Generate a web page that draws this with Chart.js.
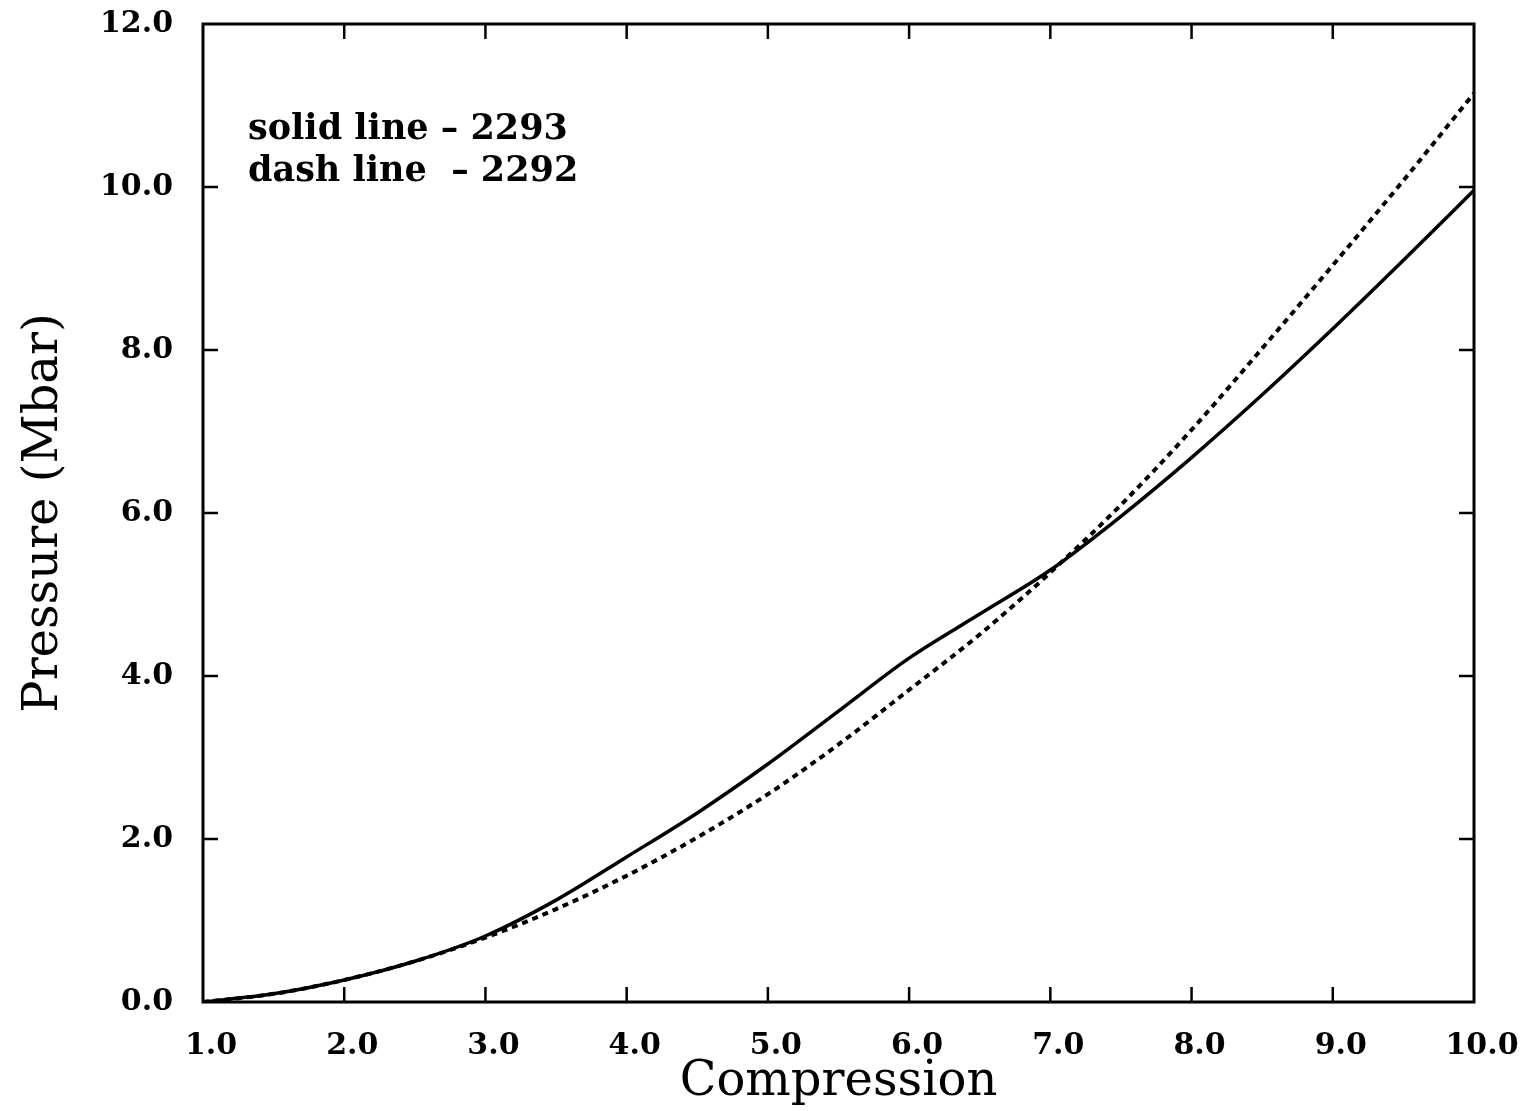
<!DOCTYPE html>
<html>
<head>
<meta charset="utf-8">
<script src="https://cdn.jsdelivr.net/npm/chart.js@4.4.1/dist/chart.umd.min.js"></script>
<style>
  html, body { margin: 0; padding: 0; background: #fff; }
  canvas { display: block; }
</style>
</head>
<body>
<canvas id="pressureChart" width="1534" height="1111"></canvas>
<script>
// compression values (x) and pressure in Mbar
const compression = [1.0, 1.5, 2.0, 2.5, 3.0, 3.5, 4.0, 4.5, 5.0, 5.5, 6.0, 6.5, 7.0, 7.5, 8.0, 8.5, 9.0, 9.5, 10.0];
const solid2293 = [0.0, 0.10, 0.27, 0.50, 0.81, 1.25, 1.78, 2.32, 2.92, 3.57, 4.22, 4.76, 5.30, 5.96, 6.68, 7.45, 8.26, 9.10, 9.96];
const dash2292  = [0.0, 0.10, 0.27, 0.50, 0.79, 1.14, 1.55, 2.02, 2.55, 3.16, 3.83, 4.51, 5.27, 6.10, 7.02, 8.02, 9.04, 10.08, 11.15];
const legendLines = ['solid line \u2013 2293', 'dash line  \u2013 2292'];

const serif = "'DejaVu Serif', 'Liberation Serif', serif";

const toPoints = (ys) => compression.map((c, i) => ({ x: c, y: ys[i] }));

// frame, inward ticks on all four sides, and the text key
const framePlugin = {
  id: 'frame',
  afterDraw(chart) {
    const { ctx, chartArea: { left, right, top, bottom }, scales: { x, y } } = chart;
    ctx.save();
    ctx.strokeStyle = '#000';
    ctx.lineWidth = 3;
    ctx.strokeRect(left, top, right - left, bottom - top);

    ctx.lineWidth = 2.5;
    const tick = 15;
    x.ticks.forEach(t => {
      if (t.value <= x.min || t.value >= x.max) return;
      const px = x.getPixelForValue(t.value);
      ctx.beginPath();
      ctx.moveTo(px, bottom); ctx.lineTo(px, bottom - tick);
      ctx.moveTo(px, top); ctx.lineTo(px, top + tick);
      ctx.stroke();
    });
    y.ticks.forEach(t => {
      if (t.value <= y.min || t.value >= y.max) return;
      const py = y.getPixelForValue(t.value);
      ctx.beginPath();
      ctx.moveTo(left, py); ctx.lineTo(left + tick, py);
      ctx.moveTo(right, py); ctx.lineTo(right - tick, py);
      ctx.stroke();
    });

    ctx.fillStyle = '#000';
    ctx.font = 'bold 35px ' + serif;
    ctx.textBaseline = 'middle';
    ctx.textAlign = 'left';
    ctx.fillText(legendLines[0], 248, 130);
    ctx.fillText(legendLines[1], 248, 172);
    ctx.restore();
  }
};

new Chart(document.getElementById('pressureChart').getContext('2d'), {
  type: 'line',
  data: {
    datasets: [
      {
        label: '2293',
        data: toPoints(solid2293),
        borderColor: '#000',
        borderWidth: 3.5,
        pointRadius: 0,
        fill: false,
        cubicInterpolationMode: 'monotone'
      },
      {
        label: '2292',
        data: toPoints(dash2292),
        borderColor: '#000',
        borderWidth: 4,
        borderDash: [6, 5],
        pointRadius: 0,
        fill: false,
        cubicInterpolationMode: 'monotone'
      }
    ]
  },
  options: {
    responsive: false,
    animation: false,
    layout: {
      padding: { top: 24, right: 60, bottom: 0, left: 0 }
    },
    plugins: {
      legend: { display: false },
      tooltip: { enabled: false }
    },
    scales: {
      x: {
        type: 'linear',
        min: 1,
        max: 10,
        grid: { display: false },
        border: { display: false },
        ticks: {
          stepSize: 1,
          color: '#000',
          padding: 18,
          labelOffset: 8,
          maxRotation: 0,
          font: { family: serif, weight: 'bold', size: 30 },
          callback: v => v.toFixed(1)
        },
        title: {
          display: true,
          text: 'Compression',
          color: '#000',
          font: { family: serif, size: 48 },
          padding: { top: 0, bottom: 0 }
        },
        afterFit: s => { s.height = 109; }
      },
      y: {
        min: 0,
        max: 12,
        grid: { display: false },
        border: { display: false },
        ticks: {
          stepSize: 2,
          color: '#000',
          padding: 22,
          font: { family: serif, weight: 'bold', size: 30 },
          callback: v => v.toFixed(1)
        },
        title: {
          display: true,
          text: 'Pressure (Mbar)',
          color: '#000',
          font: { family: serif, size: 48 },
          padding: { top: 16, bottom: 0 }
        },
        afterFit: s => { s.width = 203; s.paddingTop = 0; }
      }
    }
  },
  plugins: [framePlugin]
});
</script>
</body>
</html>
